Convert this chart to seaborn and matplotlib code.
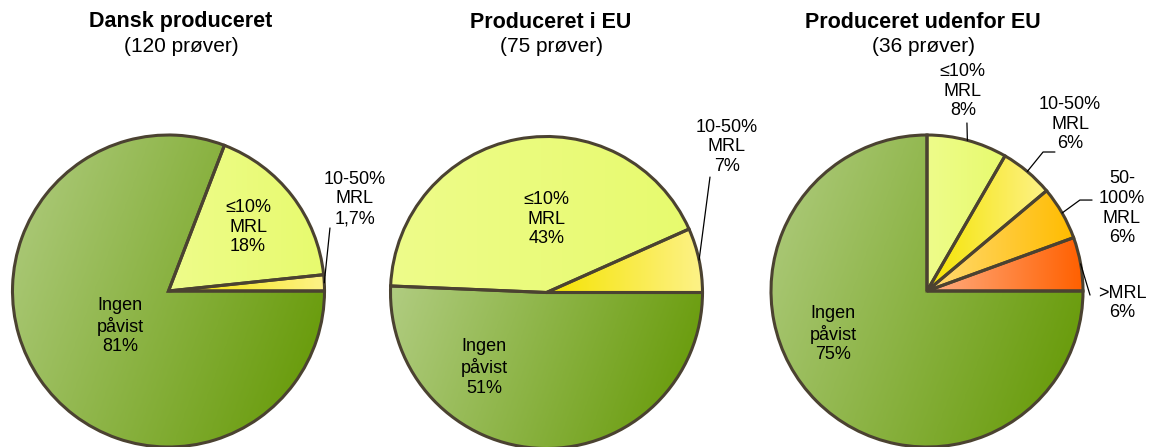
import numpy as np
import matplotlib
matplotlib.use('Agg')
import matplotlib.pyplot as plt
import seaborn as sns

# kategorier i rækkefølge mod uret fra kl. 3
categories = ['>MRL', '50-100% MRL', '10-50% MRL', '≤10% MRL', 'Ingen påvist']
cat_lines = ['>MRL', '50-\n100%\nMRL', '10-50%\nMRL', '≤10%\nMRL', 'Ingen\npåvist']

# antal prøver pr. kategori
dansk_counts = [0, 0, 2, 21, 97]
dansk_pct = ['', '', '1,7%', '18%', '81%']
eu_counts = [0, 0, 5, 32, 38]
eu_pct = ['', '', '7%', '43%', '51%']
udenfor_counts = [2, 2, 2, 3, 27]
udenfor_pct = ['6%', '6%', '6%', '8%', '75%']

titles = ['Dansk produceret', 'Produceret i EU', 'Produceret udenfor EU']
n_samples = [120, 75, 36]

# gradient: (fra, til, retning i grader)
grad_colors = {
    '>MRL': ('#ffae84', '#ff6000', 0),
    '50-100% MRL': ('#ffda74', '#ffbc00', 0),
    '10-50% MRL': ('#f5e300', '#fdf288', 0),
    '≤10% MRL': ('#eefc8a', '#e7fa6e', 0),
    'Ingen påvist': ('#b0cc80', '#629700', -20),
}
EDGE = '#4b4231'

sns.set_theme(style='white')
plt.rcParams['font.family'] = ['Liberation Sans', 'DejaVu Sans']
plt.rcParams['text.color'] = 'black'

W, H = 1150, 447
R = 156
centers = [(168.5, 291), (546.5, 292.5), (927, 291)]
title_x = [181, 551, 923]

# tekstplacering i radius-enheder
label_pos = [
    {4: (-0.31, -0.224), 3: (0.51, 0.41), 2: (1.195, 0.59)},
    {4: (-0.40, -0.48), 3: (0.0, 0.47), 2: (1.157, 0.933)},
    {4: (-0.60, -0.276), 3: (0.23, 1.28), 2: (0.917, 1.07), 1: (1.25, 0.53), 0: (1.25, -0.077)},
]
leaders = [
    {2: [(1.035, 0.404)]},
    {2: [(1.048, 0.74)]},
    {3: [(0.256, 1.077)], 2: [(0.744, 0.891), (0.82, 0.891)],
     1: [(0.98, 0.583), (1.058, 0.583)], 0: [(1.045, -0.026)]},
]


def gradient_fill(ax, wedge, c0, c1, angle):
    ext = wedge.get_path().get_extents()
    xs = np.linspace(ext.x0, ext.x1, 100)
    ys = np.linspace(ext.y0, ext.y1, 100)
    X, Y = np.meshgrid(xs, ys)
    a = np.deg2rad(angle)
    proj = X * np.cos(a) + Y * np.sin(a)
    t = (proj - proj.min()) / (proj.max() - proj.min() + 1e-9)
    pal = np.array(sns.blend_palette([c0, c1], n_colors=256))
    img = pal[(t * 255).astype(int)]
    im = ax.imshow(img, extent=(ext.x0, ext.x1, ext.y0, ext.y1), origin='lower',
                   interpolation='bilinear', zorder=1)
    im.set_clip_path(wedge)
    wedge.set_facecolor('none')


def draw_pie(ax, counts, pct, lpos, lead):
    idx = [i for i, c in enumerate(counts) if c > 0]
    vals = [counts[i] for i in idx]
    wedges, _ = ax.pie(vals, startangle=0, counterclock=True, radius=1,
                       colors=[grad_colors[categories[i]][1] for i in idx],
                       wedgeprops=dict(edgecolor=EDGE, linewidth=2.2, zorder=2))
    for w, i in zip(wedges, idx):
        c0, c1, ang = grad_colors[categories[i]]
        gradient_fill(ax, w, c0, c1, ang)
        x, y = lpos[i]
        ax.text(x, y, f'{cat_lines[i]}\n{pct[i]}', ha='center', va='center',
                fontsize=13, linespacing=1.2, color='black', zorder=5)
        if i in lead:
            mid = np.deg2rad((w.theta1 + w.theta2) / 2)
            pts = [(np.cos(mid), np.sin(mid))] + lead[i]
            ax.plot([p[0] for p in pts], [p[1] for p in pts], color='black',
                    lw=0.9, clip_on=False, zorder=4)
    ax.set_xlim(-1, 1)
    ax.set_ylim(-1, 1)
    ax.set_aspect('equal')
    ax.axis('off')


fig = plt.figure(figsize=(W / 100, H / 100), dpi=100)
data = [(dansk_counts, dansk_pct), (eu_counts, eu_pct), (udenfor_counts, udenfor_pct)]

for k, (counts, pct) in enumerate(data):
    cx, cy = centers[k]
    ax = fig.add_axes([(cx - R) / W, (H - cy - R) / H, 2 * R / W, 2 * R / H])
    draw_pie(ax, counts, pct, label_pos[k], leaders[k])
    fig.text(title_x[k] / W, 1 - 22 / H, titles[k], fontweight='bold', fontsize=15.5,
             ha='center', va='center', color='black')
    fig.text(title_x[k] / W, 1 - 47 / H, f'({n_samples[k]} prøver)', fontsize=15,
             ha='center', va='center', color='black')

fig.savefig('out.png', dpi=100)
